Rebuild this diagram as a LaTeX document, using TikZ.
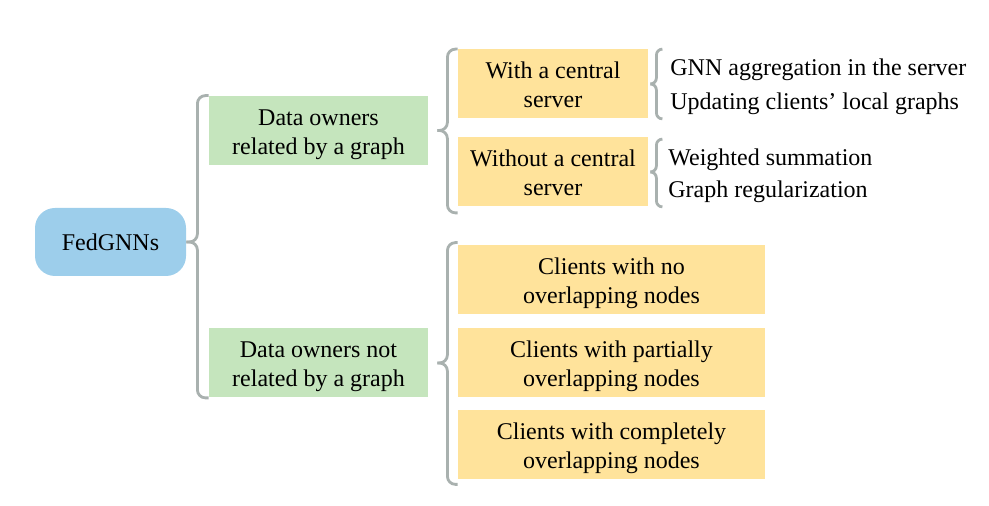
\documentclass[tikz,border=0pt]{standalone}
\usepackage{fontspec}
\setmainfont{Liberation Serif}
\usepackage{xcolor}
\usetikzlibrary{positioning, calc}
\definecolor{rootblue}{HTML}{9DCEEB}
\definecolor{ownergreen}{HTML}{C5E5BD}
\definecolor{casegold}{HTML}{FFE39B}
\definecolor{bracegray}{HTML}{A9B1AF}

\begin{document}
\begin{tikzpicture}[
    x=0.5pt, y=-0.5pt,
    font=\fontsize{12}{14.5}\selectfont,
    root/.style={rounded corners=10pt, fill=rootblue,
                 minimum width=75.5pt, minimum height=34pt, align=center},
    owner/.style={fill=ownergreen, minimum width=109.5pt,
                  minimum height=34.5pt, align=center,
                  text height=24.5pt, text depth=0.5pt},
    case/.style={fill=casegold, minimum width=#1,
                 minimum height=34.5pt, align=center,
                 text height=24.5pt, text depth=0.5pt},
    leaf/.style={anchor=west, inner sep=0pt},
    brace/.style={draw=bracegray, line width=1.4pt, rounded corners=#1},
    brace/.default=4pt,
  ]
  \useasboundingbox (0,0) rectangle (989,506);
  % root and owner groups
  \node[root] (fed) at (110.5,242) {FedGNNs};
  \node[owner] (dg) at (318.5,130.5) {Data owners\\related by a graph};
  \node[owner] (dn) at (318.5,363) {Data owners not\\related by a graph};
  \draw[brace] (fed.east) -- ++(11,0) |- (dg.north west);
  \draw[brace] (fed.east) -- ++(11,0) |- (dn.south west);
  % related by a graph
  \node[case=95pt] (ws) at (553,84) {With a central\\server};
  \node[case=95pt] (wo) at (553,172) {Without a central\\server};
  \draw[brace] ([xshift=4.5pt]dg.east) -- ++(10,0) |- (ws.north west);
  \draw[brace] ([xshift=4.5pt]dg.east) -- ++(10,0) |- ([yshift=-3pt]wo.south west);
  % leaves
  \node[leaf] (agg) at (670,70) {GNN aggregation in the server};
  \node[leaf] (upd) at (670,104) {Updating clients’ local graphs};
  \node[leaf] (sum) at (668,160) {Weighted summation};
  \node[leaf] (reg) at (668,192) {Graph regularization};
  \draw[brace=3pt] ([xshift=1pt]ws.east) -- ++(6,0) |- ([xshift=7pt]ws.north east);
  \draw[brace=3pt] ([xshift=1pt]ws.east) -- ++(6,0) |- ([xshift=7pt]ws.south east);
  \draw[brace=3pt] ([xshift=1pt]wo.east) -- ++(6,0) |- ([xshift=7pt,yshift=-1pt]wo.north east);
  \draw[brace=3pt] ([xshift=1pt]wo.east) -- ++(6,0) |- ([xshift=7pt]wo.south east);
  % not related by a graph
  \node[case=153.5pt] (c1) at (611.5,279.5) {Clients with no\\overlapping nodes};
  \node[case=153.5pt] (c2) at (611.5,362.5) {Clients with partially\\overlapping nodes};
  \node[case=153.5pt] (c3) at (611.5,444.5) {Clients with completely\\overlapping nodes};
  \draw[brace] ([xshift=4.5pt]dn.east) -- ++(10,0) |- ([yshift=1pt]c1.north west);
  \draw[brace] ([xshift=4.5pt]dn.east) -- ++(10,0) |- ([yshift=-2.5pt]c3.south west);
\end{tikzpicture}
\end{document}
